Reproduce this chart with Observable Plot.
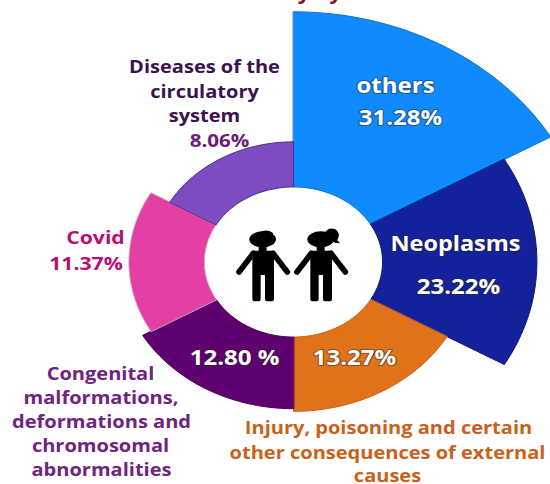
<!DOCTYPE html>
<html><head><meta charset="utf-8">
<script src="https://cdn.jsdelivr.net/npm/d3@7"></script>
<script src="https://cdn.jsdelivr.net/npm/@observablehq/plot@0.6"></script>
<style>html,body{margin:0;padding:0;background:#fff;overflow:hidden}svg{display:block}</style>
</head><body><div id="chart"></div>
<script>
const categories = ["others","Neoplasms","Injury","Congenital","Covid","Circulatory"];
const shares = [31.28,23.22,13.27,12.80,11.37,8.06];
const fills = ["#0f8bff","#13229a","#e0731a","#600070","#e33fa5","#7b4dc0"];
const strokes = ["#0a6fd8","#0a1570","#c9601a","#4a0058","#d0b0d0","#4a2a90"];

const W = 550, H = 484, cx = 293, cy = 261.5;
const hole = 13.4, unitY = 5.6, unitX = 5.6 * 1.187;   // px per share-point
const sector = 60;

const sectorRows = categories.flatMap((c, i) => {
  const r = hole + shares[i], a0 = i * sector, pts = [];
  for (let a = a0; a <= a0 + sector; a += 2) pts.push([a, r]);
  for (let a = a0 + sector; a >= a0; a -= 2) pts.push([a, hole]);
  return pts.map(([a, rr]) => ({c, i, x: rr * Math.sin(a * Math.PI / 180), y: rr * Math.cos(a * Math.PI / 180)}));
});

const layout = [
  {t:"others",x:395,y:86,c:"#fff",s:21,shadow:1},
  {t:"31.28%",x:400,y:118,c:"#fff",s:21,shadow:1},
  {t:"Neoplasms",x:455,y:244,c:"#fff",s:20.5,shadow:1},
  {t:"23.22%",x:458,y:287,c:"#fff",s:21,shadow:1},
  {t:"13.27%",x:354,y:358,c:"#fff",s:21,shadow:1},
  {t:"12.80 %",x:234,y:358,c:"#fff",s:21,shadow:1},
  {t:"Diseases of the",x:204,y:67,c:"#3d1250",s:17.5},
  {t:"circulatory",x:204,y:92,c:"#3d1250",s:17.5},
  {t:"system",x:204,y:116,c:"#3d1250",s:17.5},
  {t:"8.06%",x:219,y:141,c:"#6d2077",s:18},
  {t:"Covid",x:95,y:238,c:"#b8106e",s:18.5},
  {t:"11.37%",x:85.5,y:264,c:"#b8106e",s:18.5},
  {t:"Congenital",x:100,y:374,c:"#6f2480",s:17.5},
  {t:"malformations,",x:100.5,y:398,c:"#6f2480",s:17.5},
  {t:"deformations and",x:101,y:422,c:"#6f2480",s:17.5},
  {t:"chromosomal",x:100,y:446,c:"#6f2480",s:17.5},
  {t:"abnormalities",x:101,y:470,c:"#6f2480",s:17.5},
  {t:"Injury, poisoning and certain",x:388,y:428,c:"#c9611a",s:17.5},
  {t:"other consequences of external",x:387,y:453,c:"#c9611a",s:17.5},
  {t:"causes",x:387,y:476,c:"#c9611a",s:17.5},
  {t:"Child mortality by cause",x:278,y:-8,c:"#8b0a1a",s:19}
];

function icon() {
  const g = d3.create("svg:g").attr("transform","translate(220,210) scale(0.3333)").attr("fill","#000").attr("stroke","none");
  const person = (dx, girl) => {
    const p = g.append("g").attr("transform",`translate(${dx},0)`);
    p.append("ellipse").attr("cx",128).attr("cy",88).attr("rx",40).attr("ry",24);
    if (girl) p.append("path").attr("d","M140,70 Q150,50 172,58 Q190,70 178,90 L186,100 L170,98 Q155,88 140,70Z");
    else p.append("path").attr("d","M120,66 Q145,56 160,70 L150,80Z");
    p.append("rect").attr("x",116).attr("y",100).attr("width",24).attr("height",30);
    p.append("path").attr("d","M105,122 H155 Q162,122 162,130 V266 Q162,274 154,274 H143 Q135,274 135,266 V195 H122 V266 Q122,274 114,274 H105 Q97,274 97,266 V130 Q97,122 105,122Z");
    p.append("path").attr("d","M100,130 L57,186 M159,130 L202,186").attr("stroke","#000").attr("stroke-width",17).attr("stroke-linecap","round").attr("fill","none");
  };
  person(0,false); person(174,true);
  return g.node();
}

const textMarks = layout.map(d => Plot.text([d.t], {
  frameAnchor:"top-left", dx:d.x, dy:d.y, text:x=>x, fill:d.c, fontSize:d.s, fontWeight:700,
  fontFamily:"'Open Sans'", textAnchor:"middle", lineAnchor:"middle",
  ...(d.shadow ? {stroke:"#222",strokeWidth:2.2,strokeOpacity:0.45,paintOrder:"stroke"} : {})
}));

const chart = Plot.plot({
  width:W, height:H, margin:0,
  style:{background:"#fff",overflow:"hidden"},
  x:{domain:[-cx/unitX,(W-cx)/unitX],range:[0,W],axis:null},
  y:{domain:[(cy-H)/unitY,cy/unitY],range:[H,0],axis:null},
  marks:[
    Plot.line(sectorRows,{x:"x",y:"y",z:"i",curve:"linear-closed",
      fill:d=>fills[d.i],stroke:d=>strokes[d.i],strokeWidth:1}),
    icon,
    ...textMarks
  ]
});
// the reference artwork is stretched horizontally, so its lettering is too
chart.querySelectorAll("text").forEach(t => {
  const box = t.closest("g[transform]") ? t.closest("g[transform]").getAttribute("transform") : "";
  const m = /translate\(([-\d.]+),\s*([-\d.]+)\)/.exec(t.getAttribute("transform") || box);
  if (m) {
    const g = t.closest("g[transform]");
    if (t.getAttribute("transform")) t.setAttribute("transform", `translate(${m[1]},${m[2]}) scale(1.145,1)`);
    else if (g) g.setAttribute("transform", `translate(${m[1]},${m[2]}) scale(1.145,1)`);
  }
});
document.getElementById("chart").append(chart);
</script></body></html>
